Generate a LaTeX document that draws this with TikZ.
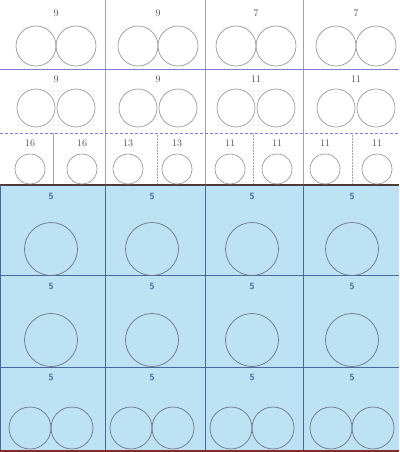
\documentclass[tikz,border=0pt]{standalone}
\usetikzlibrary{calc}
\definecolor{cellblue}{RGB}{188,226,243}
\definecolor{gridblue}{RGB}{70,105,160}
\definecolor{topgrid}{RGB}{160,160,175}
\definecolor{circgray}{RGB}{110,115,130}
\definecolor{topcirc}{RGB}{140,140,150}
\definecolor{labgray}{RGB}{80,80,95}
\definecolor{sepblue}{RGB}{120,120,225}
\definecolor{edgebrown}{RGB}{80,60,60}
\begin{document}
\begin{tikzpicture}[x=1pt,y=-1pt,
  ring/.style={draw=circgray,line width=0.7pt},
  tring/.style={draw=topcirc,line width=0.6pt},
  lab/.style={text=labgray,font=\fontsize{10}{12}\selectfont,inner sep=0pt},
  blab/.style={text=gridblue,font=\sffamily\bfseries\fontsize{9}{11}\selectfont,inner sep=0pt},
  tline/.style={draw=topgrid,line width=0.5pt},
  bline/.style={draw=gridblue,line width=0.8pt}]
\useasboundingbox (0,0) rectangle (399,452);
\fill[white] (0,0) rectangle (399,185);
\fill[cellblue] (0,185) rectangle (399,452);
% top grid
\foreach \x in {105,205,303} \draw[tline] (\x,0) -- (\x,185);
\draw[tline] (53,133) -- (53,185);
\foreach \x in {157,253,352} \draw[tline,densely dotted] (\x,133) -- (\x,185);
\draw[sepblue,line width=1pt] (0,69) -- (399,69);
\draw[sepblue,line width=0.8pt,densely dashed] (0,133) -- (399,133);
\draw[edgebrown,line width=1.4pt] (0,185) -- (399,185);
% blue grid
\foreach \x in {105,205,303} \draw[bline] (\x,185) -- (\x,452);
\draw[bline] (0,275) -- (399,275);
\draw[bline] (0,367) -- (399,367);
\draw[bline] (0.5,185) -- (0.5,452);
\draw[edgebrown!70!red,line width=1.2pt] (0,451) -- (399,451);
% row 1 and 2
\foreach \cx/\la/\lb [count=\i] in {56/9/9,158/9/9,256/7/11,356/7/11} {
  \node[lab] (ra\i) at (\cx,13) {\la};
  \node[tring,circle,minimum size=40pt,inner sep=0pt] (ca\i l) at (\cx-20,46) {};
  \node[tring,circle,minimum size=40pt,inner sep=0pt] (ca\i r) at (\cx+20,46) {};
  \node[lab] (rb\i) at (\cx,79) {\lb};
  \node[tring,circle,minimum size=38pt,inner sep=0pt] (cb\i l) at (\cx-20,108) {};
  \node[tring,circle,minimum size=38pt,inner sep=0pt] (cb\i r) at (\cx+20,108) {};
}
% row 3
\foreach \cx/\t [count=\i] in {30/16,82/16,128/13,177/13,230/11,277/11,325/11,377/11} {
  \node[lab] (rc\i) at (\cx,143) {\t};
  \node[tring,circle,minimum size=30pt,inner sep=0pt] (cc\i) at (\cx,169) {};
}
% rows 4-6
\foreach \cx [count=\i] in {51,152,252,352} {
  \node[blab] (rd\i) at (\cx,196) {5};
  \node[ring,circle,minimum size=53pt,inner sep=0pt] (cd\i) at (\cx,249) {};
  \node[blab] (re\i) at (\cx,286) {5};
  \node[ring,circle,minimum size=53pt,inner sep=0pt] (ce\i) at (\cx,340) {};
  \node[blab] (rf\i) at (\cx,377) {5};
  \node[ring,circle,minimum size=42pt,inner sep=0pt] (cf\i l) at (\cx-21,428) {};
  \node[ring,circle,minimum size=42pt,inner sep=0pt] (cf\i r) at (\cx+21,428) {};
}
\end{tikzpicture}
\end{document}
